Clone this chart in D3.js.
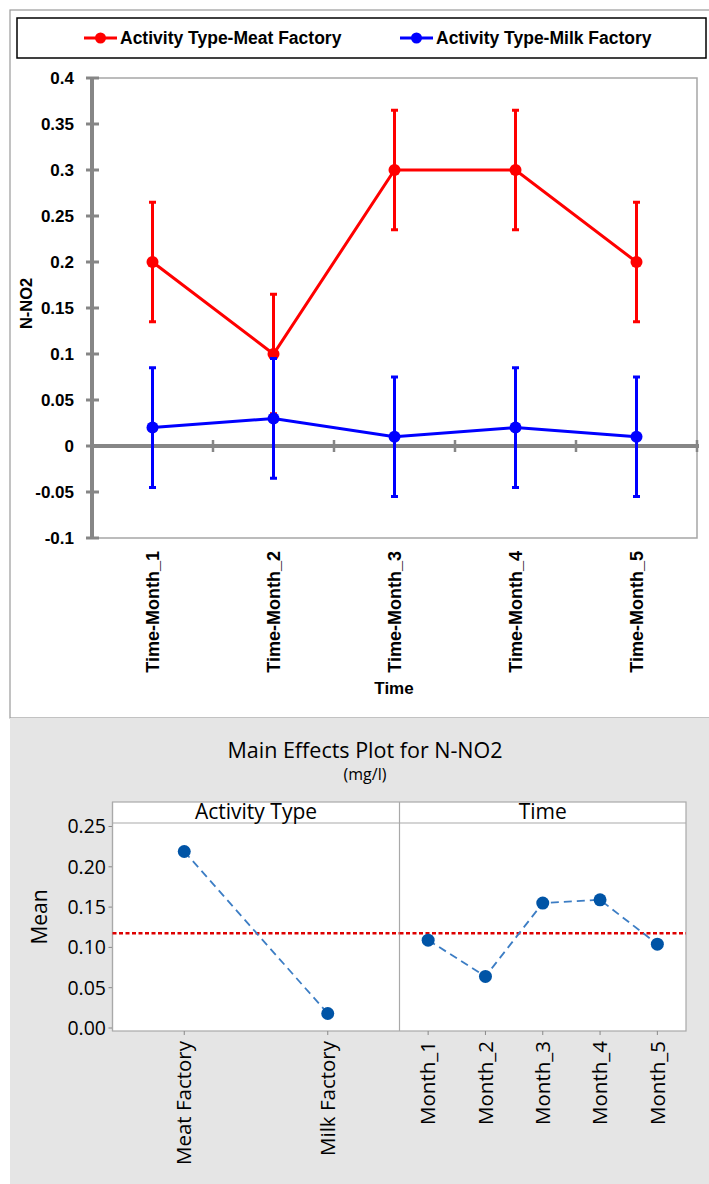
<!DOCTYPE html>
<html>
<head>
<meta charset="utf-8">
<script src="https://cdn.jsdelivr.net/npm/d3@7"></script>
<style>
  body { margin: 0; background: #fff; }
  svg { display: block; }
</style>
</head>
<body>
<svg width="709" height="1184"></svg>
<script>
// ---- data ----
var months = ["Time-Month_1", "Time-Month_2", "Time-Month_3", "Time-Month_4", "Time-Month_5"];
var meatMeans = [0.2, 0.1, 0.3, 0.3, 0.2];
var milkMeans = [0.02, 0.03, 0.01, 0.02, 0.01];
var errHalf = 0.065;
var yTicksTop = [-0.1, -0.05, 0, 0.05, 0.1, 0.15, 0.2, 0.25, 0.3, 0.35, 0.4];
var yTickLabelsTop = ["-0.1", "-0.05", "0", "0.05", "0.1", "0.15", "0.2", "0.25", "0.3", "0.35", "0.4"];
var seriesNames = ["Activity Type-Meat Factory", "Activity Type-Milk Factory"];

var activityLevels = ["Meat Factory", "Milk Factory"];
var activityMeans = [0.219, 0.018];
var timeLevels = ["Month_1", "Month_2", "Month_3", "Month_4", "Month_5"];
var timeMeans = [0.109, 0.064, 0.155, 0.159, 0.104];
var grandMean = 0.1175;
var yTicksBottom = [0, 0.05, 0.10, 0.15, 0.20, 0.25];

var svg = d3.select("svg");
var topFont = "'Liberation Sans', Arial, sans-serif";
var botFont = "'Open Sans', 'Noto Sans', sans-serif";

// ---- top chart: interaction plot with error bars ----
var topG = svg.append("g");

topG.append("rect")
    .attr("x", 10).attr("y", 10).attr("width", 720).attr("height", 708)
    .attr("fill", "#fff").attr("stroke", "#9a9a9a").attr("stroke-width", 1.2);

var x = d3.scaleBand().domain(months).range([92, 697]);
var y = d3.scaleLinear().domain([-0.1, 0.4]).range([538, 78]);

// plot frame (thin)
topG.append("path")
    .attr("d", "M" + x.range()[0] + "," + y(0.4) + "H" + x.range()[1] + "V" + y(-0.1) + "H" + x.range()[0])
    .attr("fill", "none").attr("stroke", "#a6a6a6").attr("stroke-width", 1.5);

// y axis (thick)
topG.append("line")
    .attr("x1", 92).attr("x2", 92).attr("y1", y(0.4)).attr("y2", y(-0.1))
    .attr("stroke", "#868686").attr("stroke-width", 4);

topG.selectAll(".ytick").data(yTicksTop).enter().append("line")
    .attr("class", "ytick")
    .attr("x1", 86).attr("x2", 99)
    .attr("y1", function(d) { return y(d); }).attr("y2", function(d) { return y(d); })
    .attr("stroke", "#868686").attr("stroke-width", 3);

topG.selectAll(".ylab").data(yTicksTop).enter().append("text")
    .attr("class", "ylab")
    .attr("x", 74).attr("y", function(d) { return y(d); })
    .attr("dy", "0.35em")
    .attr("text-anchor", "end")
    .style("font", "bold 17px " + topFont)
    .text(function(d, i) { return yTickLabelsTop[i]; });

// zero line (category axis)
topG.append("line")
    .attr("x1", 92).attr("x2", 699).attr("y1", y(0)).attr("y2", y(0))
    .attr("stroke", "#868686").attr("stroke-width", 4);

topG.selectAll(".xtick").data(months).enter().append("line")
    .attr("class", "xtick")
    .attr("x1", function(d) { return x(d) + x.bandwidth(); })
    .attr("x2", function(d) { return x(d) + x.bandwidth(); })
    .attr("y1", y(0) - 6).attr("y2", y(0) + 6)
    .attr("stroke", "#868686").attr("stroke-width", 2.5);

topG.selectAll(".xlab").data(months).enter().append("text")
    .attr("class", "xlab")
    .attr("transform", function(d) { return "translate(" + (x(d) + x.bandwidth() / 2) + ",551) rotate(-90)"; })
    .attr("dy", "0.35em")
    .attr("text-anchor", "end")
    .style("font", "bold 18px " + topFont)
    .text(function(d) { return d; });

topG.append("text")
    .attr("x", 394).attr("y", 694)
    .attr("text-anchor", "middle")
    .style("font", "bold 17px " + topFont)
    .text("Time");

topG.append("text")
    .attr("transform", "translate(32," + y(0.155) + ") rotate(-90)")
    .attr("text-anchor", "middle")
    .style("font", "bold 16.5px " + topFont)
    .text("N-NO2");

var series = [
  { name: seriesNames[0], values: meatMeans, color: "#ff0000" },
  { name: seriesNames[1], values: milkMeans, color: "#0000ff" }
];

var line = d3.line()
    .x(function(d, i) { return x(months[i]) + x.bandwidth() / 2; })
    .y(function(d) { return y(d); });

series.forEach(function(s) {
  var g = topG.append("g");
  var pts = s.values.map(function(v, i) { return { cx: x(months[i]) + x.bandwidth() / 2, v: v }; });

  g.append("path")
      .attr("d", line(s.values))
      .attr("fill", "none").attr("stroke", s.color).attr("stroke-width", 3);

  g.selectAll(".err").data(pts).enter().append("path")
      .attr("d", function(d) {
        var y1 = y(d.v + errHalf), y2 = y(d.v - errHalf);
        return "M" + d.cx + "," + y1 + "V" + y2 +
               "M" + (d.cx - 3.5) + "," + y1 + "H" + (d.cx + 3.5) +
               "M" + (d.cx - 3.5) + "," + y2 + "H" + (d.cx + 3.5);
      })
      .attr("fill", "none").attr("stroke", s.color).attr("stroke-width", 3);

  g.selectAll("circle").data(pts).enter().append("circle")
      .attr("cx", function(d) { return d.cx; })
      .attr("cy", function(d) { return y(d.v); })
      .attr("r", 6)
      .attr("fill", s.color);
});

// legend
topG.append("rect")
    .attr("x", 17).attr("y", 18).attr("width", 689).attr("height", 40)
    .attr("fill", "#fff").attr("stroke", "#000").attr("stroke-width", 1.5);

var legX = [84, 400];
series.forEach(function(s, i) {
  var lg = topG.append("g").attr("transform", "translate(" + legX[i] + ",38)");
  lg.append("line").attr("x1", 0).attr("x2", 33).attr("y1", 0).attr("y2", 0)
      .attr("stroke", s.color).attr("stroke-width", 3);
  lg.append("circle").attr("cx", 16.5).attr("cy", 0).attr("r", 5.5).attr("fill", s.color);
  lg.append("text").attr("x", 36).attr("dy", "0.35em")
      .style("font", "bold 17.5px " + topFont)
      .text(s.name);
});

// ---- bottom chart: main effects plot ----
var bot = svg.append("g");

bot.append("rect")
    .attr("x", 10).attr("y", 718).attr("width", 699).attr("height", 466)
    .attr("fill", "#e5e5e5");

bot.append("text")
    .attr("x", 365).attr("y", 758)
    .attr("text-anchor", "middle")
    .style("font", "21.5px " + botFont)
    .text("Main Effects Plot for N-NO2");

bot.append("text")
    .attr("x", 365).attr("y", 780)
    .attr("text-anchor", "middle")
    .style("font", "16px " + botFont)
    .text("(mg/l)");

var yb = d3.scaleLinear().domain([0, 0.25]).range([1028, 826.5]);
var panelTop = 802, stripBottom = 823, panelBottom = 1031;

var panels = [
  { title: "Activity Type", levels: activityLevels, means: activityMeans, x0: 112.5, x1: 399.5 },
  { title: "Time", levels: timeLevels, means: timeMeans, x0: 399.5, x1: 686 }
];

bot.append("rect")
    .attr("x", 112.5).attr("y", panelTop).attr("width", 686 - 112.5).attr("height", panelBottom - panelTop)
    .attr("fill", "#fff").attr("stroke", "#a9a9a9").attr("stroke-width", 1.2);

bot.append("line")
    .attr("x1", 112.5).attr("x2", 686).attr("y1", stripBottom).attr("y2", stripBottom)
    .attr("stroke", "#a9a9a9").attr("stroke-width", 1.2);

// y axis ticks / labels
bot.selectAll(".ybt").data(yTicksBottom).enter().append("line")
    .attr("class", "ybt")
    .attr("x1", 108.5).attr("x2", 112.5)
    .attr("y1", function(d) { return yb(d); }).attr("y2", function(d) { return yb(d); })
    .attr("stroke", "#888").attr("stroke-width", 1);

bot.selectAll(".ybl").data(yTicksBottom).enter().append("text")
    .attr("class", "ybl")
    .attr("x", 106).attr("y", function(d) { return yb(d); })
    .attr("dy", "0.35em")
    .attr("text-anchor", "end")
    .style("font", "19.5px " + botFont)
    .text(d3.format(".2f"));

bot.append("text")
    .attr("transform", "translate(40,917) rotate(-90)")
    .attr("dy", "0.35em")
    .attr("text-anchor", "middle")
    .style("font", "21px " + botFont)
    .text("Mean");

panels.forEach(function(p) {
  var xp = d3.scalePoint().domain(p.levels).range([p.x0, p.x1]).padding(0.5);
  var g = bot.append("g");

  g.append("line")
      .attr("x1", p.x0).attr("x2", p.x0).attr("y1", panelTop).attr("y2", panelBottom)
      .attr("stroke", "#a9a9a9").attr("stroke-width", 1.2);

  g.append("text")
      .attr("x", (p.x0 + p.x1) / 2).attr("y", 819)
      .attr("text-anchor", "middle")
      .style("font", "21px " + botFont)
      .text(p.title);

  // reference line
  g.append("line")
      .attr("x1", p.x0).attr("x2", p.x1)
      .attr("y1", yb(grandMean)).attr("y2", yb(grandMean))
      .attr("stroke", "#dd0000").attr("stroke-width", 2.5)
      .attr("stroke-dasharray", "4,2.5");

  var ln = d3.line()
      .x(function(d, i) { return xp(p.levels[i]); })
      .y(function(d) { return yb(d); });

  g.append("path")
      .attr("d", ln(p.means))
      .attr("fill", "none").attr("stroke", "#3c7dc4").attr("stroke-width", 1.8)
      .attr("stroke-dasharray", "8,5");

  g.selectAll("circle").data(p.means).enter().append("circle")
      .attr("cx", function(d, i) { return xp(p.levels[i]); })
      .attr("cy", function(d) { return yb(d); })
      .attr("r", 6.5)
      .attr("fill", "#0054a6");

  g.selectAll(".xbt").data(p.levels).enter().append("line")
      .attr("x1", function(d) { return xp(d); }).attr("x2", function(d) { return xp(d); })
      .attr("y1", panelBottom).attr("y2", panelBottom + 4)
      .attr("stroke", "#888").attr("stroke-width", 1);

  g.selectAll(".xbl").data(p.levels).enter().append("text")
      .attr("transform", function(d) { return "translate(" + xp(d) + ",1041) rotate(-90)"; })
      .attr("dy", "0.35em")
      .attr("text-anchor", "end")
      .style("font", "20.5px " + botFont)
      .text(function(d) { return d; });
});
</script>
</body>
</html>
